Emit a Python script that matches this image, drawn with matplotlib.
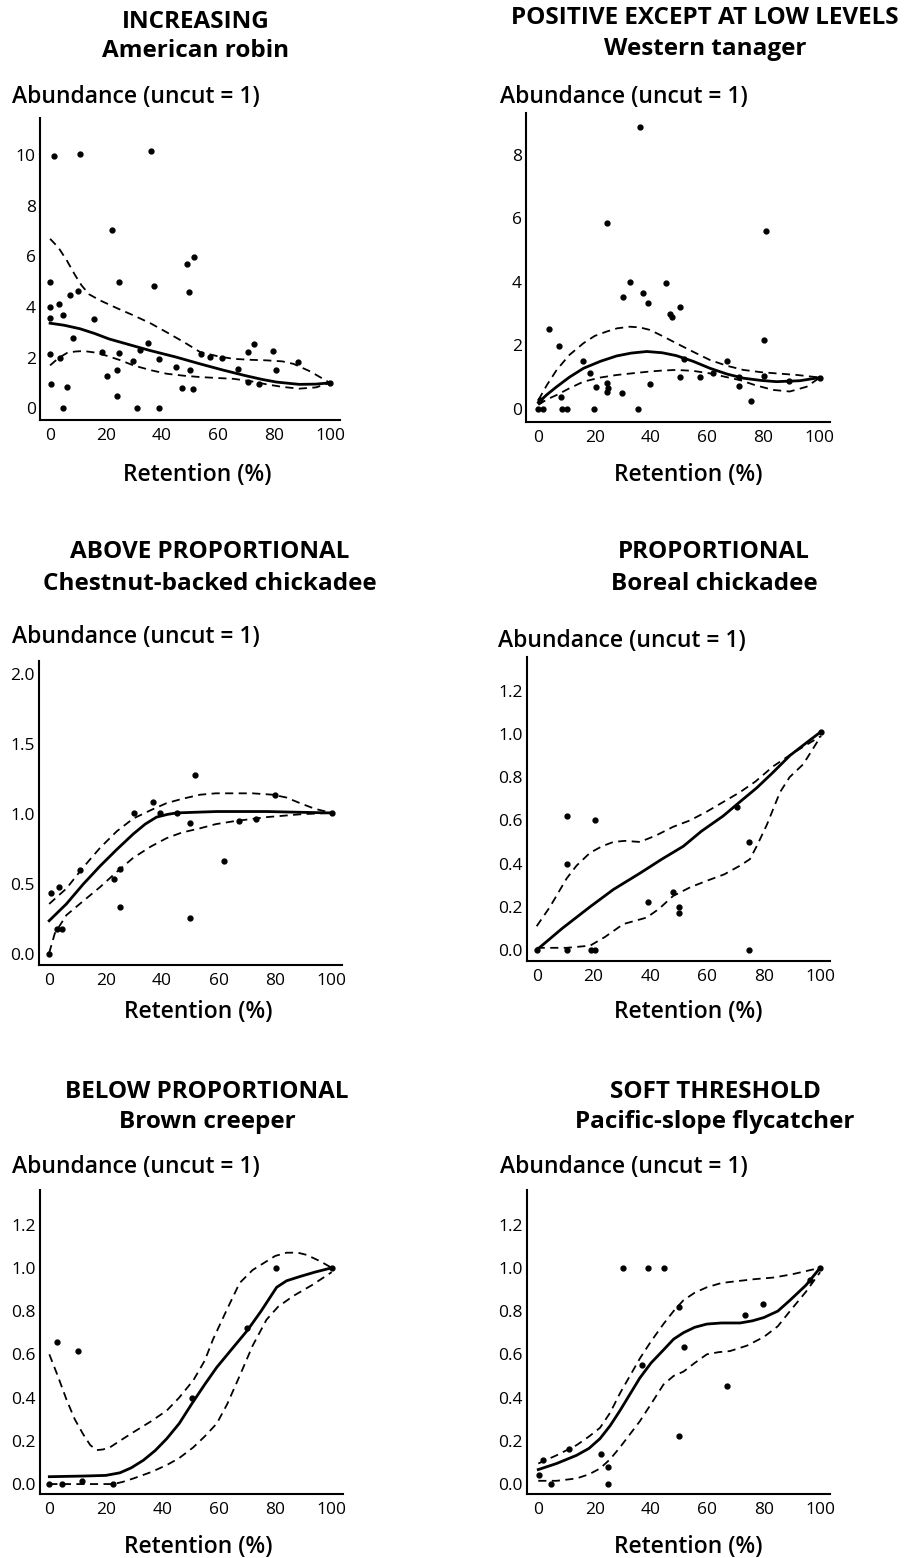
import numpy as np
import matplotlib
matplotlib.use("Agg")
import matplotlib.pyplot as plt

plt.rcParams["font.family"] = ["Open Sans", "DejaVu Sans"]

# %% data: panel titles
titles = ["INCREASING", "POSITIVE EXCEPT AT LOW LEVELS", "ABOVE PROPORTIONAL",
          "PROPORTIONAL", "BELOW PROPORTIONAL", "SOFT THRESHOLD"]
species = ["American robin", "Western tanager", "Chestnut-backed chickadee",
           "Boreal chickadee", "Brown creeper", "Pacific-slope flycatcher"]

# %% American robin
robin_x = [1.5, 10.7, 36, 22.3, 0, 24.8, 37, 49, 51.4, 49.8, 10, 7, 3.3, 0, 0, 4.5, 15.8, 8.3,
           0, 3.6, 18.5, 24.8, 32, 35, 39, 29.8, 20.5, 24, 0.4, 6, 23.8, 4.5, 31, 39, 45, 50,
           47.3, 51, 53.8, 57, 61.5, 67, 70.8, 73, 79.8, 80.7, 70.8, 74.8, 88.7, 100]
robin_y = [9.97, 10.07, 10.17, 7.03, 5.01, 5.01, 4.83, 5.69, 5.98, 4.59, 4.62, 4.46, 4.13, 4.0,
           3.58, 3.67, 3.54, 2.77, 2.15, 2.0, 2.22, 2.18, 2.31, 2.59, 1.95, 1.86, 1.29, 1.49,
           0.96, 0.83, 0.46, 0.0, 0.0, 0.0, 1.62, 1.49, 0.80, 0.74, 2.15, 2.04, 1.99, 1.56,
           2.22, 2.55, 2.26, 1.49, 1.03, 0.96, 1.82, 1.0]
robin_fit_x = [0, 5, 10.7, 16, 21, 28, 35.7, 45, 53.6, 62, 69.6, 76, 81, 89, 95, 100]
robin_fit = [3.36, 3.28, 3.14, 2.95, 2.74, 2.52, 2.28, 2.02, 1.75, 1.5, 1.29, 1.13, 1.03, 0.94, 0.95, 1.0]
robin_up_x = [0, 3, 6, 9, 11.3, 14, 17.9, 24, 29.8, 36, 41.7, 48, 53.6, 60, 65.5, 72, 77.4, 83, 87, 93, 100]
robin_up = [6.70, 6.35, 5.84, 5.25, 4.85, 4.50, 4.26, 3.95, 3.67, 3.35, 3.0, 2.6, 2.22, 2.05, 1.95,
            1.91, 1.89, 1.85, 1.75, 1.45, 1.0]
robin_lo_x = [0, 3, 6, 9, 12, 16, 20, 25, 29.8, 36, 41.7, 48, 53.6, 60, 65.5, 72, 77.4, 83, 89, 95, 100]
robin_lo = [1.69, 1.98, 2.18, 2.24, 2.26, 2.2, 2.08, 1.9, 1.69, 1.5, 1.36, 1.28, 1.23, 1.19, 1.16,
            1.06, 0.94, 0.84, 0.77, 0.82, 1.0]

# %% Western tanager
tanager_x = [36, 24.3, 80.8, 32.5, 45.2, 30, 37, 39, 46.7, 47.3, 50.3, 3.6, 7.3, 16, 18.3, 24.5,
             24.9, 24.5, 20.5, 29.6, 39.6, 7.9, 0.6, 0, 1.8, 8.3, 10, 19.9, 35.5, 51.8, 50.3,
             57.4, 61.9, 67.1, 71.4, 71.4, 75.5, 80.1, 80.1, 89, 100]
tanager_y = [8.89, 5.85, 5.61, 3.99, 3.96, 3.54, 3.64, 3.35, 2.99, 2.89, 3.22, 2.51, 1.98, 1.52,
             1.14, 0.81, 0.65, 0.55, 0.68, 0.49, 0.79, 0.39, 0.28, 0.0, 0.0, 0.0, 0.0, 0.0, 0.0,
             1.56, 1.0, 1.0, 1.14, 1.52, 1.02, 0.72, 0.26, 2.17, 1.04, 0.89, 0.99]
tanager_fit_x = [0, 3, 6.5, 11, 16, 22, 27.8, 33, 38.5, 44, 49, 55, 61, 67, 72.8, 79, 84.6, 92.9, 100]
tanager_fit = [0.2, 0.45, 0.7, 1.0, 1.28, 1.5, 1.67, 1.76, 1.81, 1.77, 1.68, 1.5, 1.28, 1.1, 0.97,
               0.9, 0.86, 0.89, 0.99]
tanager_up_x = [0, 3, 6.5, 11, 16, 20, 24.3, 28, 32.5, 36, 39.6, 44, 49, 55, 61, 67, 72.8, 79, 84.6, 92, 100]
tanager_up = [0.28, 0.75, 1.23, 1.7, 2.07, 2.3, 2.44, 2.54, 2.59, 2.57, 2.49, 2.3, 2.07, 1.8, 1.54,
              1.36, 1.23, 1.16, 1.12, 1.07, 0.99]
tanager_lo_x = [0, 3, 6.5, 11, 16, 22, 27.8, 33, 39.6, 44, 49, 55, 61, 66, 71.6, 77, 83.4, 89.3, 95.3, 100]
tanager_lo = [0.13, 0.3, 0.44, 0.65, 0.86, 0.99, 1.07, 1.12, 1.18, 1.21, 1.23, 1.2, 1.12, 1.02,
              0.91, 0.75, 0.6, 0.55, 0.70, 0.99]

# %% Chestnut-backed chickadee
cbch_x = [0, 2.6, 4.4, 0.6, 3.5, 10.9, 23, 25, 25, 30, 36.8, 39.2, 45.1, 51.6, 50, 50, 61.9,
          67.3, 73.4, 79.9, 100]
cbch_y = [0.0, 0.18, 0.18, 0.44, 0.48, 0.60, 0.54, 0.61, 0.34, 1.01, 1.09, 1.01, 1.01, 1.28,
          0.94, 0.26, 0.67, 0.95, 0.97, 1.14, 1.01]
cbch_fit_x = [0, 6.1, 12, 18, 24, 29.8, 34, 38, 42, 45.1, 52, 59.3, 68, 77, 88, 100]
cbch_fit = [0.24, 0.36, 0.50, 0.63, 0.75, 0.86, 0.93, 0.98, 1.0, 1.01, 1.015, 1.02, 1.02, 1.02, 1.015, 1.01]
cbch_up_x = [0, 6.1, 12, 18, 24, 29.8, 36, 41.6, 47, 53.4, 59, 65.2, 72, 79.3, 84, 88.8, 94, 100]
cbch_up = [0.36, 0.47, 0.62, 0.76, 0.88, 0.97, 1.03, 1.08, 1.11, 1.14, 1.15, 1.15, 1.15, 1.14,
           1.12, 1.08, 1.04, 1.01]
cbch_lo_x = [0, 2, 6.1, 12, 18, 24, 29.8, 36, 41.6, 47, 53.4, 59, 65.2, 71, 77, 83, 88.8, 94, 100]
cbch_lo = [0.01, 0.15, 0.28, 0.38, 0.48, 0.59, 0.69, 0.77, 0.83, 0.87, 0.90, 0.93, 0.95, 0.965,
           0.98, 0.99, 1.0, 1.005, 1.01]

# %% Boreal chickadee
bore_x = [0, 10.5, 19, 20.5, 10.5, 20.5, 10.5, 39.3, 47.8, 50.2, 50.2, 70.6, 74.8, 74.8, 100]
bore_y = [0.0, 0.0, 0.0, 0.0, 0.62, 0.60, 0.40, 0.22, 0.27, 0.20, 0.17, 0.66, 0.50, 0.0, 1.01]
bore_fit_x = [0, 9, 18.8, 27, 36.3, 44, 51.6, 58, 65.6, 71, 77.4, 83, 89.1, 95, 100]
bore_fit = [0.0, 0.1, 0.2, 0.28, 0.355, 0.42, 0.48, 0.55, 0.62, 0.68, 0.75, 0.82, 0.9, 0.96, 1.01]
bore_up_x = [0, 4.7, 10.5, 14, 18.8, 23, 27, 31, 36.3, 42, 48, 54, 59.8, 65, 71.5, 77, 83.2, 90, 95, 100]
bore_up = [0.11, 0.2, 0.33, 0.39, 0.45, 0.48, 0.50, 0.505, 0.50, 0.53, 0.57, 0.60, 0.64, 0.68,
           0.73, 0.78, 0.85, 0.91, 0.95, 0.99]
bore_lo_x = [0, 10.5, 18.8, 24, 30.5, 38.7, 43, 48, 54, 59.8, 66, 71.5, 75, 77.4, 81, 85.6, 89, 93.8, 100]
bore_lo = [0.01, 0.01, 0.02, 0.06, 0.12, 0.15, 0.19, 0.25, 0.29, 0.32, 0.35, 0.39, 0.42, 0.48,
           0.58, 0.73, 0.80, 0.86, 0.99]

# %% Brown creeper
brcr_x = [0, 4.4, 11.5, 22.7, 2.8, 10.3, 50.4, 70.1, 80.3, 100]
brcr_y = [0.0, 0.0, 0.015, 0.0, 0.655, 0.616, 0.40, 0.72, 1.0, 1.0]
brcr_fit_x = [0, 12, 20, 25, 29, 33.3, 37.5, 41.6, 46, 50.4, 55, 59.3, 65, 70.1, 75, 80.5, 84, 88.8, 94, 100]
brcr_fit = [0.034, 0.037, 0.04, 0.052, 0.075, 0.11, 0.155, 0.21, 0.28, 0.37, 0.46, 0.54, 0.63,
            0.71, 0.80, 0.91, 0.94, 0.96, 0.98, 1.0]
brcr_up_x = [0, 3, 6.1, 9, 12, 14.5, 16.8, 19, 21.5, 25, 29.8, 36, 41.6, 46, 51, 55, 58, 63, 67.4,
             72, 76.9, 80, 84, 88, 91.1, 96, 100]
brcr_up = [0.6, 0.5, 0.39, 0.3, 0.23, 0.18, 0.157, 0.16, 0.17, 0.2, 0.24, 0.29, 0.34, 0.40, 0.48,
           0.57, 0.67, 0.81, 0.93, 0.99, 1.03, 1.055, 1.07, 1.07, 1.06, 1.03, 1.0]
brcr_lo_x = [0, 10, 22.7, 26, 29.8, 36, 41.6, 46, 51, 55, 59.3, 63, 67.4, 72, 76.9, 81, 86.4, 93, 100]
brcr_lo = [0.0, 0.0, 0.0, 0.01, 0.026, 0.055, 0.088, 0.12, 0.17, 0.22, 0.28, 0.37, 0.50, 0.64,
           0.76, 0.82, 0.87, 0.92, 0.98]

# %% Pacific-slope flycatcher
psfl_x = [0.4, 1.5, 4.5, 10.9, 22.2, 24.9, 24.9, 29.9, 38.8, 44.7, 36.9, 49.9, 49.9, 51.7, 67.1,
          73.4, 79.9, 96.4, 100]
psfl_y = [0.04, 0.11, 0.0, 0.16, 0.14, 0.077, 0.0, 1.0, 1.0, 1.0, 0.55, 0.82, 0.22, 0.635, 0.455,
          0.78, 0.835, 0.946, 1.0]
psfl_fit_x = [0, 6.5, 13.6, 18, 21.9, 25.5, 29, 32.5, 36, 40, 44.4, 48, 51.5, 55.5, 59.8, 65, 71.6,
              76, 80, 85, 89.3, 95, 100]
psfl_fit = [0.067, 0.095, 0.133, 0.165, 0.21, 0.27, 0.34, 0.415, 0.49, 0.56, 0.62, 0.67, 0.70,
            0.725, 0.74, 0.745, 0.745, 0.755, 0.77, 0.80, 0.85, 0.92, 1.0]
psfl_up_x = [0, 6.5, 13.6, 18, 21.9, 25.5, 29, 32.5, 36, 40, 44.4, 48, 51.5, 55.5, 59.8, 65, 71.6,
             77, 83.4, 90, 95, 100]
psfl_up = [0.095, 0.133, 0.18, 0.22, 0.26, 0.33, 0.42, 0.50, 0.58, 0.66, 0.74, 0.80, 0.85, 0.885,
           0.91, 0.93, 0.94, 0.948, 0.955, 0.97, 0.985, 1.0]
psfl_lo_x = [0, 6.5, 13.6, 18, 21.9, 25.5, 29, 32.5, 36, 40, 44.4, 48, 51.5, 55.5, 59.8, 64, 68,
             74, 80, 85, 89.3, 95, 100]
psfl_lo = [0.015, 0.015, 0.026, 0.045, 0.072, 0.115, 0.17, 0.23, 0.29, 0.37, 0.46, 0.50, 0.52,
           0.56, 0.60, 0.61, 0.615, 0.64, 0.68, 0.73, 0.80, 0.89, 0.98]

panels = [
    (robin_x, robin_y, robin_fit_x, robin_fit, robin_up_x, robin_up, robin_lo_x, robin_lo),
    (tanager_x, tanager_y, tanager_fit_x, tanager_fit, tanager_up_x, tanager_up, tanager_lo_x, tanager_lo),
    (cbch_x, cbch_y, cbch_fit_x, cbch_fit, cbch_up_x, cbch_up, cbch_lo_x, cbch_lo),
    (bore_x, bore_y, bore_fit_x, bore_fit, bore_up_x, bore_up, bore_lo_x, bore_lo),
    (brcr_x, brcr_y, brcr_fit_x, brcr_fit, brcr_up_x, brcr_up, brcr_lo_x, brcr_lo),
    (psfl_x, psfl_y, psfl_fit_x, psfl_fit, psfl_up_x, psfl_up, psfl_lo_x, psfl_lo),
]
yticks = [np.arange(0, 11, 2), np.arange(0, 9, 2), np.arange(0, 2.01, 0.5),
          np.arange(0, 1.21, 0.2), np.arange(0, 1.21, 0.2), np.arange(0, 1.21, 0.2)]
ytick_fmt = ["{:.0f}", "{:.0f}", "{:.1f}", "{:.1f}", "{:.1f}", "{:.1f}"]

# %% layout in pixels (left, right, top, bottom) and axis limits
W, H = 914, 1558
boxes = [(40, 340, 118, 420), (526, 830, 113, 422), (39, 342, 661, 965),
         (527, 830, 657, 961), (40, 343, 1190, 1494), (527, 830, 1190, 1494)]
xlims = [(-3.6, 103.6), (-4.4, 103.6), (-3.6, 103.7), (-3.4, 103.2), (-3.3, 104), (-4.0, 103.5)]
ylims = [(-0.47, 11.48), (-0.41, 9.32), (-0.076, 2.095), (-0.051, 1.356), (-0.046, 1.36), (-0.046, 1.36)]
title_pos = [(196, 22, 51), (705, 18, 49), (210, 552, 584), (714, 552, 584),
             (207, 1092, 1122), (715, 1092, 1122)]
abund_pos = [(12, 97), (500, 97), (12, 637), (498, 641), (12, 1167), (500, 1167)]
ret_pos = [(197, 475), (688, 475), (198, 1012), (688, 1012), (198, 1547), (688, 1547)]

fig = plt.figure(figsize=(W / 100, H / 100), dpi=100)

for i, (px, py, fx, fy, ux, uy, lx, ly) in enumerate(panels):
    l, r, t, b = boxes[i]
    ax = fig.add_axes([l / W, 1 - b / H, (r - l) / W, (b - t) / H])
    ax.plot(ux, uy, color="black", lw=1.3, ls=(0, (4.5, 3)))
    ax.plot(lx, ly, color="black", lw=1.3, ls=(0, (4.5, 3)))
    ax.plot(fx, fy, color="black", lw=2.0)
    ax.plot(px, py, "o", color="black", ms=3.5, mec="black")
    ax.set_xlim(*xlims[i])
    ax.set_ylim(*ylims[i])
    ax.set_xticks([0, 20, 40, 60, 80, 100])
    ax.set_yticks(yticks[i])
    ax.set_yticklabels([ytick_fmt[i].format(v) for v in yticks[i]])
    ax.tick_params(length=0, labelsize=12.5, pad=3)
    ax.tick_params(axis="x", pad=6)
    for s in ["top", "right"]:
        ax.spines[s].set_visible(False)
    for s in ["left", "bottom"]:
        ax.spines[s].set_linewidth(1.5)

    cx, y1, y2 = title_pos[i]
    fig.text(cx / W, 1 - y1 / H, titles[i], ha="center", va="center", fontsize=17.5, fontweight="bold")
    fig.text(cx / W, 1 - y2 / H, species[i], ha="center", va="center", fontsize=17.5, fontweight="bold")
    ax_, ay_ = abund_pos[i]
    fig.text(ax_ / W, 1 - ay_ / H, "Abundance (uncut = 1)", ha="left", va="center",
             fontsize=16.5, fontweight="semibold")
    rx, ry = ret_pos[i]
    fig.text(rx / W, 1 - ry / H, "Retention (%)", ha="center", va="center",
             fontsize=16.5, fontweight="semibold")

fig.savefig("out.png", dpi=100, facecolor="white")
